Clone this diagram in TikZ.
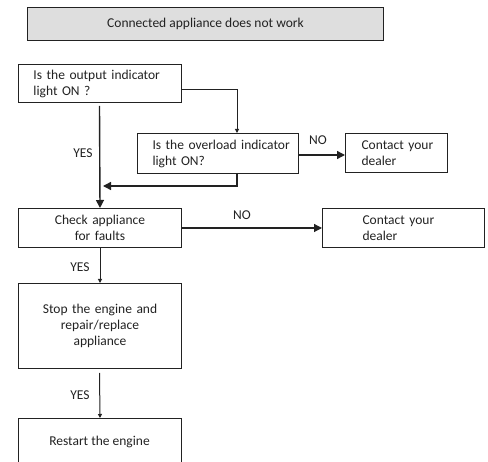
\documentclass[tikz,border=0pt]{standalone}
\usepackage{fontspec}
\setmainfont{Carlito}
\usetikzlibrary{arrows.meta}
\definecolor{ink}{HTML}{222222}
\definecolor{topfill}{HTML}{DEDEDE}
\begin{document}
\begin{tikzpicture}[x=1pt,y=-1pt,
  every node/.style={font=\fontsize{13.5}{16}\selectfont, text=ink},
  box/.style={draw=ink, line width=1pt, anchor=north west, inner ysep=0pt},
  lbox/.style={box, align=left},
  cbox/.style={box, align=center},
  big/.style={draw=ink, line width=1.4pt, -{Triangle[length=8pt,width=8pt]}},
  small/.style={draw=ink, line width=1pt, -{Triangle[length=4pt,width=4pt]}},
  lab/.style={anchor=center}]
\useasboundingbox (0,0) rectangle (488,462);
% boxes
\node[cbox, fill=topfill, minimum width=356, minimum height=33] (top) at (27,7) {Connected appliance does not work};
\node[lbox, text width=133, inner xsep=15, minimum height=38] (q1) at (18,64) {\mbox{Is the output indicator}\\\mbox{light ON ?}};
\node[lbox, text width=131, inner xsep=15, minimum height=40] (q2) at (137,133) {\mbox{Is the overload indicator}\\\mbox{light ON?}};
\node[lbox, text width=70, inner xsep=16, minimum height=39] (d1) at (345,133) {\mbox{Contact your}\\\mbox{dealer}};
\node[cbox, text width=133, inner xsep=15, minimum height=39] (chk) at (18,208) {Check appliance\\for faults};
\node[lbox, text width=82, inner xsep=40, minimum height=39] (d2) at (322,208) {\mbox{Contact your}\\\mbox{dealer}};
\node[cbox, text width=133, inner xsep=15, minimum height=85] (stop) at (18,283) {Stop the engine and\\repair/replace\\appliance};
\node[cbox, text width=133, inner xsep=15, minimum height=52, yshift=-1pt] (rst) at (18,417) {};
\node[lab] (rsttxt) at (99.5,442) {Restart the engine};
% connectors
\coordinate (q1r) at (q1.east |- 0,90);
\draw[small] (q1r) -| (q2.north -| 237,0);
\coordinate (ys) at (99.5,106);
\draw[big] (ys) -- (chk.north);
\coordinate (q2b) at (237,173);
\coordinate (mid) at (237,186);
\draw[big] (q2b) -- (mid) -- (103,186);
\draw[big] (q2.east |- 0,155) -- (d1.west |- 0,155);
\draw[big, line width=1.2pt] (chk.east |- 0,228) -- (d2.west |- 0,228);
\draw[small] (chk.south) -- (stop.north);
\coordinate (s2) at (99.5,373);
\draw[small] (s2) -- (rst.north);
% labels
\node[lab] (yes1) at (83,153) {YES};
\node[lab] (no1) at (318,140) {NO};
\node[lab] (no2) at (242,215) {NO};
\node[lab] (yes2) at (80,267) {YES};
\node[lab] (yes3) at (80,395) {YES};
\end{tikzpicture}
\end{document}
